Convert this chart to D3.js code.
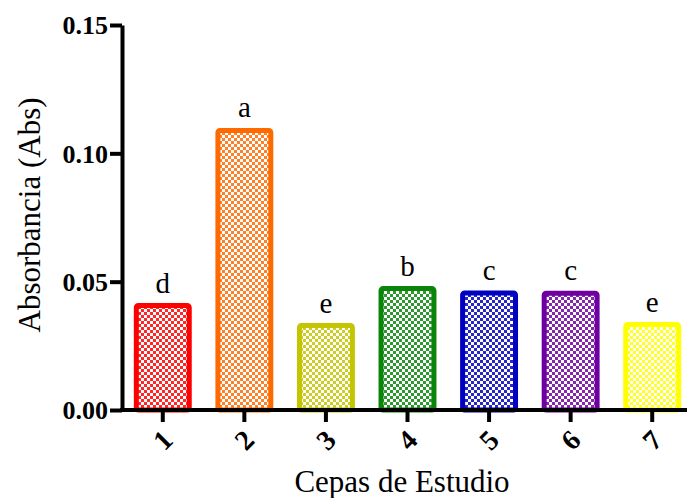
<!DOCTYPE html>
<html>
<head>
<meta charset="utf-8">
<script src="https://cdn.jsdelivr.net/npm/d3@7"></script>
<style>
  body { margin: 0; background: #fff; }
  svg { display: block; }
  svg text { font-family: 'Liberation Serif', Tinos, 'Times New Roman', 'DejaVu Serif', serif; }
</style>
</head>
<body>
<svg id="chart" width="687" height="498"></svg>
<script>
// data
const categories = ['1', '2', '3', '4', '5', '6', '7'];
const values = [0.0407, 0.1089, 0.0329, 0.0473, 0.0456, 0.0455, 0.0333];
const letters = ['d', 'a', 'e', 'b', 'c', 'c', 'e'];
const yTicks = [0.00, 0.05, 0.10, 0.15];
const colors = ['#ff0000', '#ff6a00', '#c4c400', '#0a850a', '#0000c0', '#6e00a0', '#ffff00'];

const width = 687, height = 498;
const margin = { top: 25, right: -6, bottom: 88, left: 122 };

const svg = d3.select('#chart');

const x = d3.scaleBand()
  .domain(categories)
  .range([margin.left, width - margin.right])
  .paddingInner(0.29)
  .paddingOuter(0.145);

const y = d3.scaleLinear()
  .domain([0, 0.15])
  .range([height - margin.bottom, margin.top]);

// checker patterns, one per bar colour
const defs = svg.append('defs');
const pats = defs.selectAll('pattern')
  .data(colors)
  .enter()
  .append('pattern')
  .attr('id', (d, i) => 'chk' + i)
  .attr('patternUnits', 'userSpaceOnUse')
  .attr('width', 6)
  .attr('height', 6);
pats.append('rect').attr('width', 6).attr('height', 6).attr('fill', '#fff');
pats.append('rect').attr('x', 0).attr('y', 0).attr('width', 3).attr('height', 3)
  .attr('fill', d => d).attr('opacity', 0.85);
pats.append('rect').attr('x', 3).attr('y', 3).attr('width', 3).attr('height', 3)
  .attr('fill', d => d).attr('opacity', 0.85);

const sw = 5;

// bars
svg.selectAll('rect.bar')
  .data(values)
  .enter()
  .append('rect')
  .attr('class', 'bar')
  .attr('x', (d, i) => x(categories[i]) + sw / 2)
  .attr('y', d => y(d))
  .attr('width', x.bandwidth() - sw)
  .attr('height', d => y(0) - y(d))
  .attr('rx', 2)
  .attr('fill', (d, i) => `url(#chk${i})`)
  .attr('stroke', (d, i) => colors[i])
  .attr('stroke-width', sw);

// significance letters
svg.selectAll('text.letter')
  .data(values)
  .enter()
  .append('text')
  .attr('class', 'letter')
  .attr('x', (d, i) => x(categories[i]) + x.bandwidth() / 2)
  .attr('y', d => y(d) - 13)
  .attr('text-anchor', 'middle')
  .style('font-size', '29px')
  .text((d, i) => letters[i]);

// y axis
const yAxis = svg.append('g')
  .attr('transform', `translate(${margin.left},0)`)
  .call(d3.axisLeft(y).tickValues(yTicks).tickFormat(d3.format('.2f')).tickSize(12).tickSizeOuter(0).tickPadding(2));
yAxis.attr('font-family', null);
yAxis.select('.domain').attr('stroke', '#000').attr('stroke-width', 4);
yAxis.selectAll('.tick line').attr('stroke', '#000').attr('stroke-width', 4);
yAxis.selectAll('.tick text')
  .attr('fill', '#000')
  .style('font-weight', 'bold')
  .style('font-size', '26px')
  .attr('dy', '0.34em');

// x axis
const xAxis = svg.append('g')
  .attr('transform', `translate(0,${y(0)})`)
  .call(d3.axisBottom(x).tickSize(12).tickSizeOuter(0));
xAxis.attr('font-family', null);
xAxis.select('.domain').attr('stroke', '#000').attr('stroke-width', 4)
  .attr('d', `M${margin.left - 2},0H${width}`);
xAxis.selectAll('.tick line').attr('stroke', '#000').attr('stroke-width', 4);
xAxis.selectAll('.tick text')
  .attr('fill', '#000')
  .attr('y', 0)
  .attr('dy', 0)
  .attr('text-anchor', 'middle')
  .attr('transform', 'translate(0,30) rotate(-45)')
  .attr('dominant-baseline', 'central')
  .style('font-weight', 'bold')
  .style('font-size', '28px');

// axis titles
svg.append('text')
  .attr('x', 402)
  .attr('y', 492)
  .attr('text-anchor', 'middle')
  .style('font-size', '31px')
  .text('Cepas de Estudio');

svg.append('text')
  .attr('transform', 'translate(40,215) rotate(-90)')
  .attr('text-anchor', 'middle')
  .style('font-size', '31px')
  .text('Absorbancia (Abs)');
</script>
</body>
</html>
